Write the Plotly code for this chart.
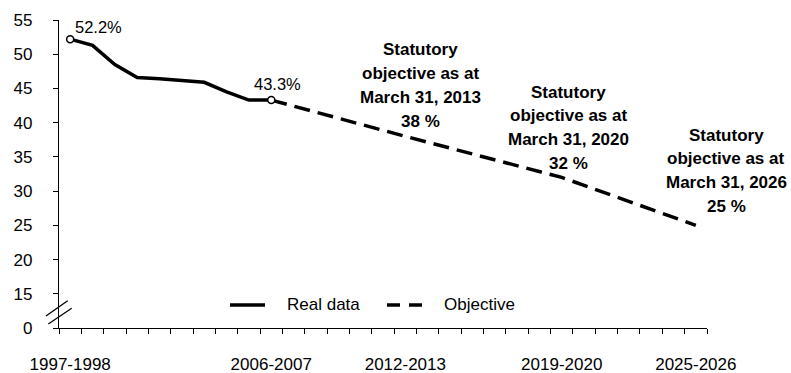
import plotly.graph_objects as go

# Fiscal years (start year of each fiscal year) and labels
years = list(range(1997, 2026))
tick_years = [1997, 2006, 2012, 2019, 2025]
tick_labels = [f"{y}-{y + 1}" for y in tick_years]

# Real data (%), 1997-1998 to 2006-2007
real_years = list(range(1997, 2007))
real_values = [52.2, 51.3, 48.5, 46.6, 46.4, 46.1, 45.9, 44.5, 43.3, 43.3]

# Statutory objectives (%)
objective_years = [2006, 2012, 2019, 2025]
objective_values = [43.3, 38.0, 32.0, 25.0]
objective_dates = ["March 31, 2013", "March 31, 2020", "March 31, 2026"]

# Y axis: broken axis, bottom tick shown as 0
y_tickvals = [10, 15, 20, 25, 30, 35, 40, 45, 50, 55]
y_ticktext = ["0", "15", "20", "25", "30", "35", "40", "45", "50", "55"]

FONT = "Arial, 'Liberation Sans', sans-serif"
INK = "#000000"
LINE_W = 3.5
DASH = "16px,8px"
TXT = 17

fig = go.Figure()

fig.add_trace(go.Scatter(
    x=objective_years, y=objective_values, mode="lines", name="Objective",
    line=dict(color=INK, width=LINE_W, dash=DASH),
))
fig.add_trace(go.Scatter(
    x=real_years, y=real_values, mode="lines", name="Real data",
    line=dict(color=INK, width=LINE_W),
))
# Hollow markers on the first and last real observations
end_x = [real_years[0], real_years[-1]]
end_y = [real_values[0], real_values[-1]]
fig.add_trace(go.Scatter(
    x=end_x, y=end_y, mode="markers", showlegend=False,
    marker=dict(symbol="circle", size=7, color="white",
                line=dict(color=INK, width=1.5)),
))

annotations = [
    dict(x=end_x[0], y=end_y[0], xref="x", yref="y", text=f"{end_y[0]}%",
         showarrow=False, xanchor="left", yanchor="middle", xshift=3, yshift=12,
         font=dict(size=16.5, color=INK, family=FONT)),
    dict(x=end_x[1], y=end_y[1], xref="x", yref="y", text=f"{end_y[1]}%",
         showarrow=False, xanchor="center", yanchor="middle", xshift=6, yshift=16,
         font=dict(size=16.5, color=INK, family=FONT)),
]

# Objective call-outs, one annotation per line for even line spacing
callout_pos = [(0.5586, 0.9026), (0.787, 0.7662), (1.030, 0.6266)]
for (px, py), date, val in zip(callout_pos, objective_dates, objective_values[1:]):
    lines = ["Statutory", "objective as at", date, f"{val:g} %"]
    for i, line in enumerate(lines):
        annotations.append(dict(
            x=px, y=py, xref="paper", yref="paper", text=line,
            showarrow=False, xanchor="center", yanchor="middle",
            yshift=-23.7 * i,
            font=dict(size=17, color=INK, family=FONT, weight="bold"),
        ))

# Legend, drawn by hand
legend_items = [
    ("Real data", "solid", 0.2639, 0.3179, 0.3488),
    ("Objective", "13px,9px", 0.5062, 0.5602, 0.5910),
]
legend_y = 0.0747
shapes = []
for name, dash, sx0, sx1, tx in legend_items:
    shapes.append(dict(type="line", xref="paper", yref="paper",
                       x0=sx0, x1=sx1, y0=legend_y, y1=legend_y,
                       line=dict(color=INK, width=LINE_W, dash=dash)))
    annotations.append(dict(x=tx, y=legend_y, xref="paper", yref="paper",
                            text=name, showarrow=False, xanchor="left",
                            yanchor="middle",
                            font=dict(size=TXT, color=INK, family=FONT)))

# Axis break marks
shapes += [
    dict(type="line", xref="paper", yref="paper", x0=-0.0201, y0=0.039,
         x1=0.0134, y1=0.0886, line=dict(color=INK, width=1.3)),
    dict(type="line", xref="paper", yref="paper", x0=-0.0165, y0=0.013,
         x1=0.0196, y1=0.064, line=dict(color=INK, width=1.3)),
]

boundaries = [y - 0.5 for y in years] + [years[-1] + 0.5]

fig.update_layout(
    width=791, height=373,
    margin=dict(l=59, r=84, t=20, b=45, autoexpand=False),
    paper_bgcolor="white", plot_bgcolor="white",
    font=dict(family=FONT, size=TXT, color=INK),
    showlegend=False,
    annotations=annotations,
    shapes=shapes,
    xaxis=dict(
        range=[boundaries[0], boundaries[-1]], automargin=False,
        tickmode="array", tickvals=tick_years, ticktext=tick_labels,
        ticks="outside", ticklen=0, ticklabelstandoff=20,
        minor=dict(tickmode="array", tickvals=boundaries, ticks="outside",
                   ticklen=5, tickcolor=INK, tickwidth=1),
        showline=True, linecolor=INK, linewidth=1.2,
        showgrid=False, zeroline=False,
        tickfont=dict(size=TXT, family=FONT, color=INK),
    ),
    yaxis=dict(
        range=[10, 55], automargin=False,
        tickmode="array", tickvals=y_tickvals, ticktext=y_ticktext,
        ticks="outside", ticklen=5, tickcolor=INK, tickwidth=1,
        ticklabelstandoff=17,
        showline=True, linecolor=INK, linewidth=1.2,
        showgrid=False, zeroline=False,
        tickfont=dict(size=TXT, family=FONT, color=INK),
    ),
)

fig.write_html("out.html")
